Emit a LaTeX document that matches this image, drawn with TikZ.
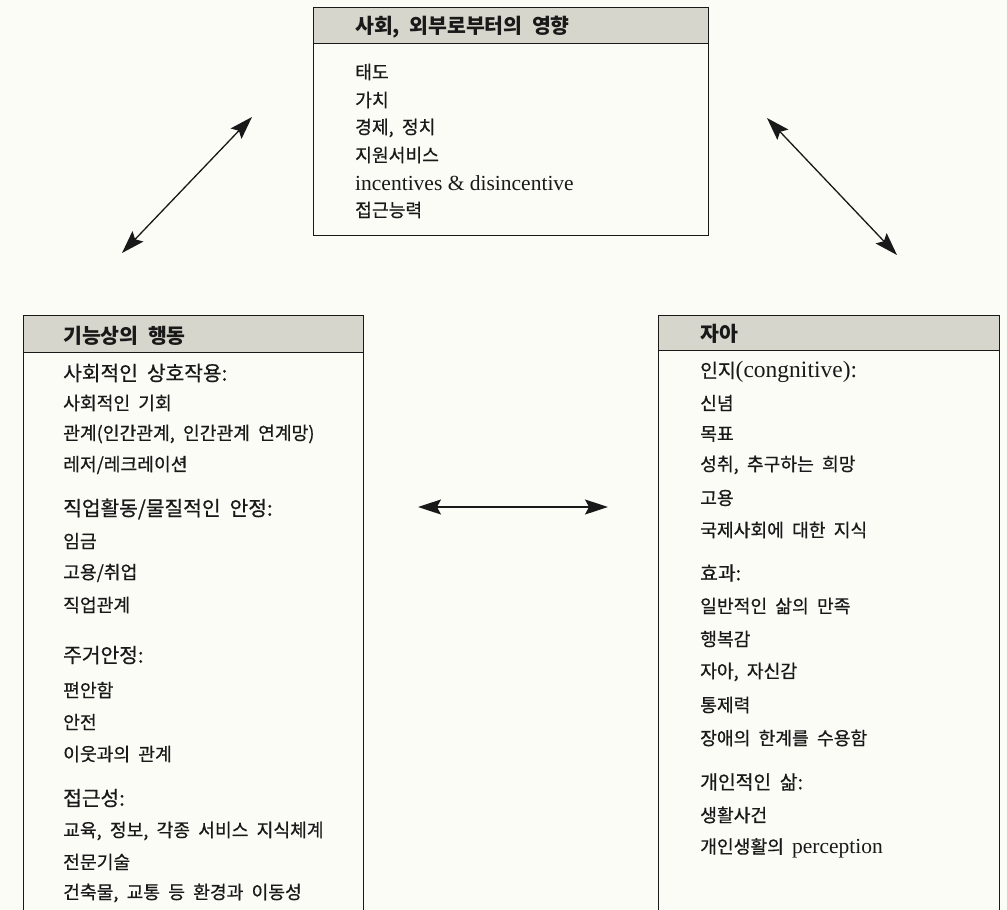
\documentclass[tikz,border=0pt]{standalone}
\usepackage{fontspec}
\setmainfont{Liberation Serif}
\newfontfamily\kr[WordSpace=2,FakeBold=0.6]{Noto Sans CJK KR}
\newfontfamily\krb[WordSpace=2]{Noto Sans CJK KR}
\usetikzlibrary{arrows.meta}
\definecolor{hdrgray}{RGB}{214,214,204}
\definecolor{paper}{RGB}{252,252,246}
\definecolor{ink}{RGB}{25,25,25}
\newcommand\lt[1]{{\rmfamily\fontsize{21.5}{24}\selectfont #1}}
\newcommand\ltb[1]{{\rmfamily\fontsize{23.5}{26}\selectfont #1}}
\begin{document}
\begin{tikzpicture}[x=1pt,y=-1pt,
  boxframe/.style={draw=ink, line width=1.3pt, rectangle, anchor=north west, inner sep=0pt},
  title/.style={anchor=west, inner sep=0pt, text=ink, font=\krb\bfseries\fontsize{20.5}{22}\selectfont},
  item/.style={anchor=west, inner sep=0pt, text=ink, font=\kr\fontsize{18.2}{20}\selectfont},
  headL/.style={anchor=west, inner sep=0pt, text=ink, font=\kr\fontsize{20.3}{22}\selectfont},
  headR/.style={anchor=west, inner sep=0pt, text=ink, font=\kr\fontsize{19.3}{21}\selectfont},
  link/.style={{Stealth[length=23pt,width=15pt,inset=4pt]}-{Stealth[length=23pt,width=15pt,inset=4pt]}, line width=1.3pt, draw=ink, fill=ink}]
\useasboundingbox (0,0) rectangle (1007,910);
\clip (0,0) rectangle (1007,910);
\fill[paper] (0,0) rectangle (1007,910);

% ---- top box
\fill[hdrgray] (313,7) rectangle (708,43);
\node[boxframe, minimum width=395pt, minimum height=228pt] (topbox) at (313,7) {};
\draw[ink, line width=1pt] (313,43) -- (708,43);
\node[title] (t0) at (355,27) {사회, 외부로부터의 영향};
\node[item] (t1) at (355,72) {태도};
\node[item] (t2) at (355,100) {가치};
\node[item] (t3) at (355,128) {경제, 정치};
\node[item] (t4) at (355,155) {지원서비스};
\node[item] (t5) at (355,183) {\lt{incentives \& disincentive}};
\node[item] (t6) at (355,210) {접근능력};

% ---- left box
\fill[hdrgray] (23,315) rectangle (363,352);
\node[boxframe, minimum width=340pt, minimum height=640pt] (leftbox) at (23,315) {};
\draw[ink, line width=1pt] (23,352) -- (363,352);
\node[title] (l0) at (63,336) {기능상의 행동};
\node[headL] (l1) at (63,373) {사회적인 상호작용:};
\node[item] (l2) at (63,403) {사회적인 기회};
\node[item] (l3) at (63,434) {관계(인간관계, 인간관계 연계망)};
\node[item] (l4) at (63,465) {레저/레크레이션};
\node[headL] (l5) at (63,509) {직업활동/물질적인 안정:};
\node[item] (l6) at (63,541) {임금};
\node[item] (l7) at (63,573) {고용/취업};
\node[item] (l8) at (63,605) {직업관계};
\node[headL] (l9) at (63,655) {주거안정:};
\node[item] (l10) at (63,690) {편안함};
\node[item] (l11) at (63,722) {안전};
\node[item] (l12) at (63,754) {이웃과의 관계};
\node[headL] (l13) at (63,798) {접근성:};
\node[item] (l14) at (63,831) {교육, 정보, 각종 서비스 지식체계};
\node[item] (l15) at (63,862) {전문기술};
\node[item] (l16) at (63,893) {건축물, 교통 등 환경과 이동성};

% ---- right box
\fill[hdrgray] (658,315) rectangle (999,350);
\node[boxframe, minimum width=341pt, minimum height=640pt] (rightbox) at (658,315) {};
\draw[ink, line width=1pt] (658,350) -- (999,350);
\node[title] (r0) at (700,334) {자아};
\node[headR] (r1) at (700,372) {인지\ltb{(congnitive):}};
\node[item] (r2) at (700,403) {신념};
\node[item] (r3) at (700,434) {목표};
\node[item] (r4) at (700,465) {성취, 추구하는 희망};
\node[item] (r5) at (700,498) {고용};
\node[item] (r6) at (700,530) {국제사회에 대한 지식};
\node[headR] (r7) at (700,573) {효과:};
\node[item] (r8) at (700,606) {일반적인 삶의 만족};
\node[item] (r9) at (700,639) {행복감};
\node[item] (r10) at (700,672) {자아, 자신감};
\node[item] (r11) at (700,705) {통제력};
\node[item] (r12) at (700,738) {장애의 한계를 수용함};
\node[headR] (r13) at (700,782) {개인적인 삶:};
\node[item] (r14) at (700,815) {생활사건};
\node[item] (r15) at (700,848) {개인생활의 \lt{perception}};

% ---- connectors
\coordinate (tlA) at (122,253);
\coordinate (tlB) at (252,117);
\coordinate (trA) at (767,118);
\coordinate (trB) at (897,255);
\coordinate (hA) at (418,507);
\coordinate (hB) at (608,507);
\draw[link] (tlA) -- (tlB);
\draw[link] (trA) -- (trB);
\draw[link] (hA) -- (hB);
\end{tikzpicture}
\end{document}
